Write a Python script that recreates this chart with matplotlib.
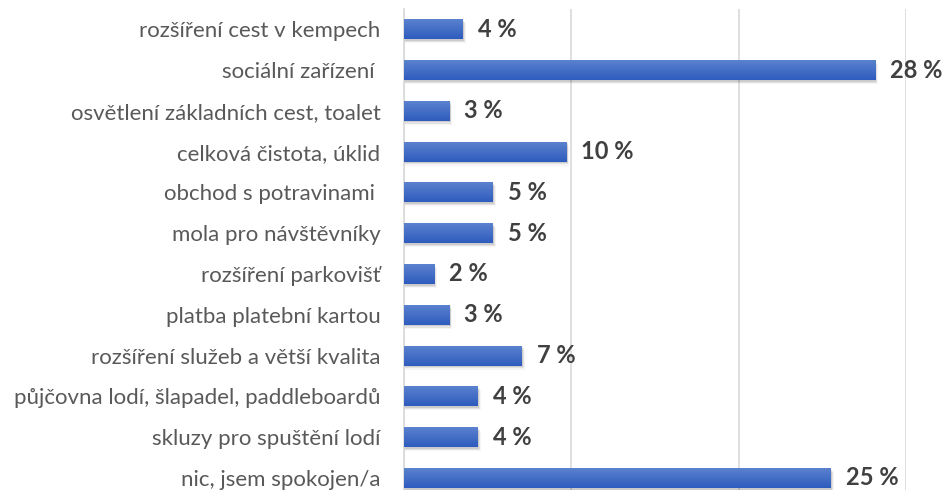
# Horizontal bar chart of survey answers (share of respondents, %), Excel-like styling.
import numpy as np
import matplotlib
matplotlib.use("Agg")
import matplotlib.pyplot as plt
from matplotlib.colors import LinearSegmentedColormap

CATEGORIES = ["rozšíření cest v kempech", "sociální zařízení ", "osvětlení základních cest, toalet",
              "celková čistota, úklid", "obchod s potravinami ", "mola pro návštěvníky",
              "rozšíření parkovišť", "platba platební kartou", "rozšíření služeb a větší kvalita",
              "půjčovna lodí, šlapadel, paddleboardů", "skluzy pro spuštění lodí", "nic, jsem spokojen/a"]
VALUES = [3.5, 28.15, 2.7, 9.7, 5.3, 5.3, 1.8, 2.7, 7.05, 4.4, 4.4, 25.5]
LABELS = ["4 %", "28 %", "3 %", "10 %", "5 %", "5 %", "2 %", "3 %", "7 %", "4 %", "4 %", "25 %"]

plt.rcParams["font.family"] = ["Lato", "DejaVu Sans"]

fig = plt.figure(figsize=(9.48, 4.90), dpi=100)
ax = fig.add_axes([404 / 948, -0.017, (906 - 404) / 948, 0.999])

y = np.arange(len(CATEGORIES))
h = 0.49
grad = LinearSegmentedColormap.from_list("bar", ["#5B82CF", "#2E5CBE"])
gimg = np.linspace(0, 1, 64).reshape(-1, 1)

for yi, v in zip(y, VALUES):
    # soft drop shadow
    for k, a in enumerate([0.10, 0.07, 0.04]):
        d = 0.04 + 0.03 * k
        ax.barh(yi + d, v + 0.08 + 0.05 * k, height=h, left=0, color="black", alpha=a,
                lw=0, zorder=2)
    bar = ax.barh(yi, v, height=h, color="#4472C4", lw=0, zorder=3)[0]
    im = ax.imshow(gimg, cmap=grad, aspect="auto", zorder=4,
                   extent=[0, v, yi + h / 2, yi - h / 2])
    im.set_clip_path(bar)

for yi, v, lab in zip(y, VALUES, LABELS):
    ax.text(v + 0.9, yi, lab, va="center", ha="left", fontsize=17, fontweight="bold",
            color="#404040", zorder=5)

ax.set_xlim(0, 30)
ax.set_ylim(len(CATEGORIES) - 0.5, -0.5)
ax.set_xticks([0, 10, 20, 30])
ax.set_xticklabels([])
ax.set_yticks(y)
ax.set_yticklabels(CATEGORIES, fontsize=16, color="#595959")
ax.tick_params(length=0, pad=17)
ax.grid(axis="x", color="#D9D9D9", lw=1.2, zorder=0)
for s in ["top", "right", "bottom"]:
    ax.spines[s].set_visible(False)
ax.spines["left"].set_color("#D9D9D9")
ax.spines["left"].set_linewidth(1.2)

fig.savefig("out.png", dpi=100)
